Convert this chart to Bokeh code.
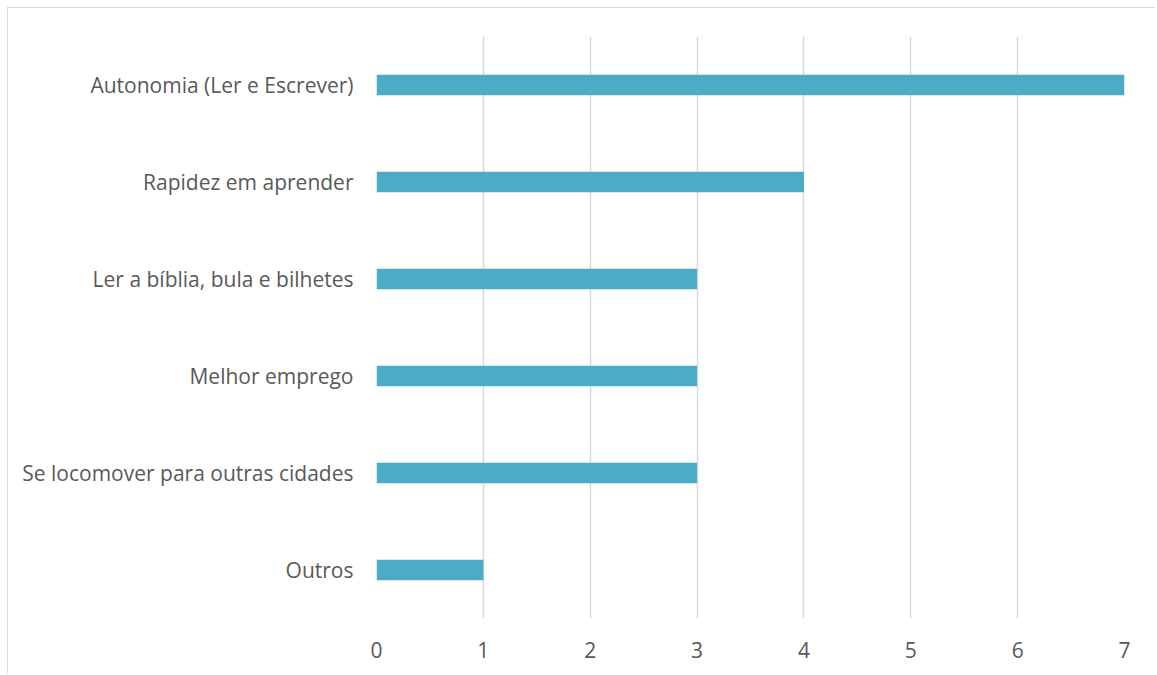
from bokeh.plotting import figure
from bokeh.models import FactorRange, Range1d, FixedTicker
from bokeh.embed import file_html
from bokeh.resources import INLINE

categories = ["Autonomia (Ler e Escrever)", "Rapidez em aprender", "Ler a bíblia, bula e bilhetes",
              "Melhor emprego", "Se locomover para outras cidades", "Outros"]
values = [7, 4, 3, 3, 3, 1]
x_ticks = [0, 1, 2, 3, 4, 5, 6, 7]

p = figure(width=1148, height=666, output_backend="svg", toolbar_location=None,
           y_range=FactorRange(factors=list(reversed(categories)), range_padding=0),
           x_range=Range1d(0, 7),
           min_border_left=368, min_border_right=32, min_border_top=28, min_border_bottom=56)
p.styles = {"border-left": "1px solid #d9d9d9", "border-top": "1px solid #d9d9d9",
            "margin-left": "7px", "margin-top": "7px"}

p.hbar(y=categories, right=values, left=0, height=0.21, color="#4BACC6", line_color=None)

p.outline_line_color = None
p.background_fill_color = "white"
p.border_fill_color = "white"

p.xaxis.ticker = FixedTicker(ticks=x_ticks)
p.xaxis.axis_line_color = None
p.xaxis.major_tick_line_color = None
p.xaxis.minor_tick_line_color = None
p.xaxis.major_label_text_font = "Open Sans"
p.xaxis.major_label_text_font_size = "21px"
p.xaxis.major_label_text_color = "#595959"
p.xaxis.major_label_standoff = 17

p.yaxis.axis_line_color = None
p.yaxis.major_tick_line_color = None
p.yaxis.minor_tick_line_color = None
p.yaxis.major_label_text_font = "Open Sans"
p.yaxis.major_label_text_font_size = "21px"
p.yaxis.major_label_text_color = "#595959"
p.yaxis.major_label_standoff = 17

p.xgrid.grid_line_color = "#d9d9d9"
p.xgrid.grid_line_width = 1.5
p.ygrid.grid_line_color = None

open("out.html", "w").write(file_html(p, INLINE))
